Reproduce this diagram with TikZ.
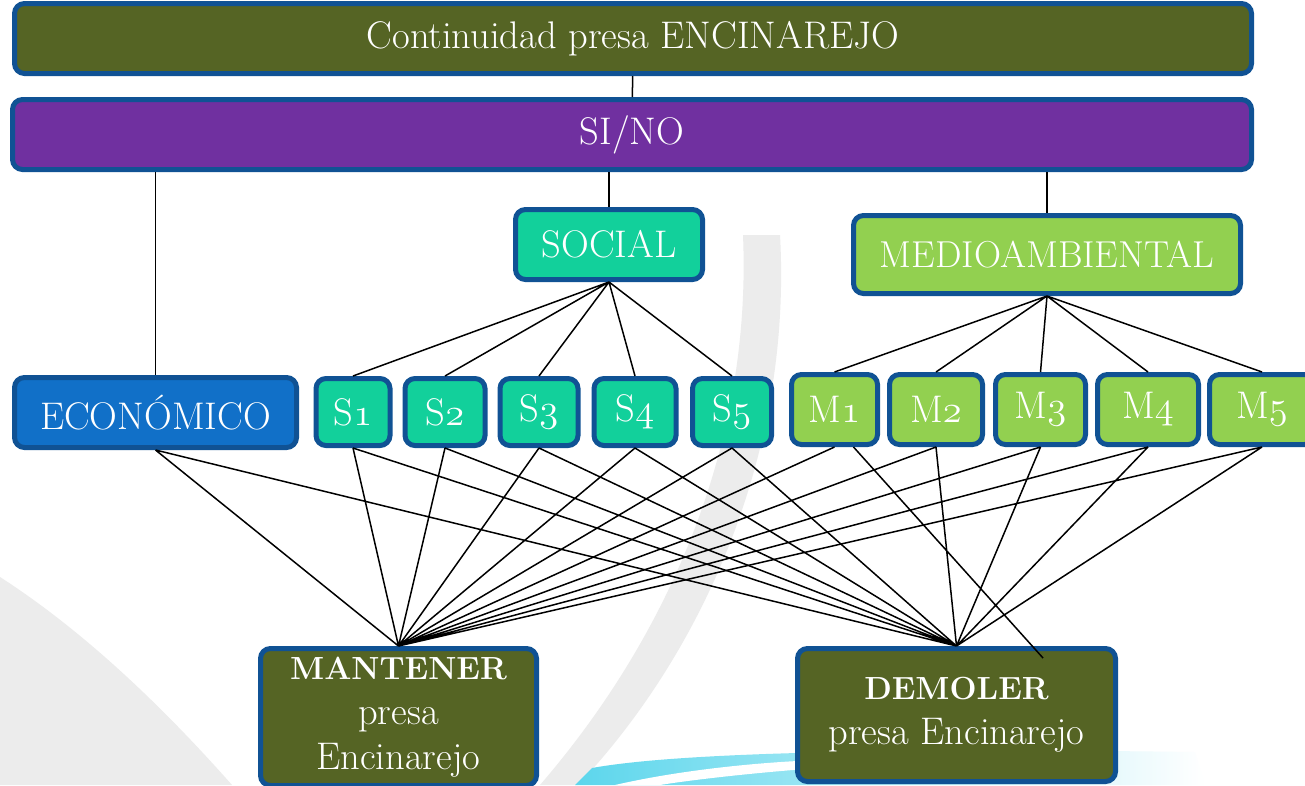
\documentclass[tikz,border=0pt]{standalone}
\usepackage{fix-cm}
\usepackage{tikz}
\definecolor{edgeblue}{RGB}{16,82,148}
\definecolor{olivefill}{RGB}{85,100,36}
\definecolor{purplefill}{RGB}{112,48,160}
\definecolor{socfill}{RGB}{18,208,155}
\definecolor{medfill}{RGB}{146,208,80}
\definecolor{econfill}{RGB}{17,112,200}
\definecolor{wmgray}{RGB}{236,236,236}
\definecolor{wmcyan}{RGB}{92,214,236}
\tikzstyle{basebox}=[rectangle,draw=edgeblue,line width=5pt,rounded corners=10pt,
                     text=white,inner sep=0pt,align=center,
                     font=\fontsize{38.5}{45}\selectfont]
\tikzstyle{olivebox}=[basebox,fill=olivefill]
\tikzstyle{purplebox}=[basebox,fill=purplefill]
\tikzstyle{socbox}=[basebox,fill=socfill]
\tikzstyle{medbox}=[basebox,fill=medfill]
\tikzstyle{econbox}=[basebox,fill=econfill]
\tikzstyle{link}=[black,line width=1.5pt]
\newcommand{\onum}[1]{$\mathnormal{#1}$}
\newcommand{\bighead}[1]{{\fontsize{32}{45}\selectfont\bfseries #1}}

\begin{document}
\begin{tikzpicture}[x=1pt,y=-1pt]
    \clip (0,0) rectangle (1305,785);
    \fill[white] (0,0) rectangle (1305,785);
    \fill[wmgray] (743,235) -- (780,235) .. controls (792,450) and (705,650) .. (578,785)
        -- (540,785) .. controls (665,640) and (752,450) .. (743,235) -- cycle;
    \fill[wmgray] (0,577) .. controls (90,635) and (170,715) .. (232,785) -- (0,785) -- cycle;
    \shade[left color=wmcyan,right color=white] (575,785) -- (592,768)
        .. controls (680,752) and (900,748) .. (1195,752) -- (1205,785) -- cycle;
    \fill[white] (615,785) .. controls (680,770) and (760,762) .. (820,760) -- (820,768)
        .. controls (760,772) and (690,780) .. (660,785) -- cycle;

    \node (title) at (633,38.5) [olivebox,minimum width=1237pt,minimum height=70pt]{Continuidad presa ENCINAREJO};
    \node (sino) at (632,134.5) [purplebox,minimum width=1239pt,minimum height=70pt]{SI/NO};
    \node (social) at (609,244.5) [socbox,minimum width=187pt,minimum height=70pt]{SOCIAL};
    \node (medio) at (1047,254.5) [medbox,minimum width=387pt,minimum height=78pt,
                                   font=\fontsize{37.5}{45}\selectfont]{MEDIOAMBIENTAL};
    \node (econ) at (155.5,412.5) [econbox,minimum width=282pt,minimum height=70pt]{ECONÓMICO};

    \node (s1) at (353,412) [socbox,minimum width=74pt,minimum height=67pt]{S\onum{1}};
    \node (s2) at (445,412) [socbox,minimum width=80pt,minimum height=67pt]{S\onum{2}};
    \node (s3) at (539,412) [socbox,minimum width=78pt,minimum height=67pt]{S\onum{3}};
    \node (s4) at (635,412) [socbox,minimum width=82pt,minimum height=67pt]{S\onum{4}};
    \node (s5) at (732,412) [socbox,minimum width=79pt,minimum height=67pt]{S\onum{5}};

    \node (m1) at (834.5,409.5) [medbox,minimum width=86pt,minimum height=70pt]{M\onum{1}};
    \node (m2) at (936,409.5) [medbox,minimum width=93pt,minimum height=70pt]{M\onum{2}};
    \node (m3) at (1040.5,409.5) [medbox,minimum width=90pt,minimum height=70pt]{M\onum{3}};
    \node (m4) at (1148,409.5) [medbox,minimum width=101pt,minimum height=70pt]{M\onum{4}};
    \node (m5) at (1262,409.5) [medbox,minimum width=105pt,minimum height=70pt]{M\onum{5}};

    \node (mant) at (398.5,717) [olivebox,minimum width=276pt,minimum height=137pt]{\bighead{MANTENER}\\presa\\Encinarejo};
    \node (dem) at (956.5,715) [olivebox,minimum width=318pt,minimum height=133pt]{\bighead{DEMOLER}\\presa Encinarejo};
    \coordinate (loose) at (1043,658);

    \draw[link] (title) -- (sino);
    \draw[link] (sino.south -| econ.north) -- (econ.north)
                (sino.south -| social.north) -- (social.north)
                (sino.south -| medio.north) -- (medio.north);
    \draw[link] (social.south) -- (s1.north) (social.south) -- (s2.north)
                (social.south) -- (s3.north) (social.south) -- (s4.north)
                (social.south) -- (s5.north);
    \draw[link] (medio.south) -- (m1.north) (medio.south) -- (m2.north)
                (medio.south) -- (m3.north) (medio.south) -- (m4.north)
                (medio.south) -- (m5.north);
    \draw[link] (econ.south) -- (mant.north) (econ.south) -- (dem.north)
                (s1.south) -- (mant.north) (s1.south) -- (dem.north)
                (s2.south) -- (mant.north) (s2.south) -- (dem.north)
                (s3.south) -- (mant.north) (s3.south) -- (dem.north)
                (s4.south) -- (mant.north) (s4.south) -- (dem.north)
                (s5.south) -- (mant.north) (s5.south) -- (dem.north);
    \draw[link] (m1.south) -- (mant.north) ([xshift=19pt]m1.south) -- (loose)
                (m2.south) -- (mant.north) (m2.south) -- (dem.north)
                (m3.south) -- (mant.north) (m3.south) -- (dem.north)
                (m4.south) -- (mant.north) (m4.south) -- (dem.north)
                (m5.south) -- (mant.north) (m5.south) -- (dem.north);
\end{tikzpicture}
\end{document}
